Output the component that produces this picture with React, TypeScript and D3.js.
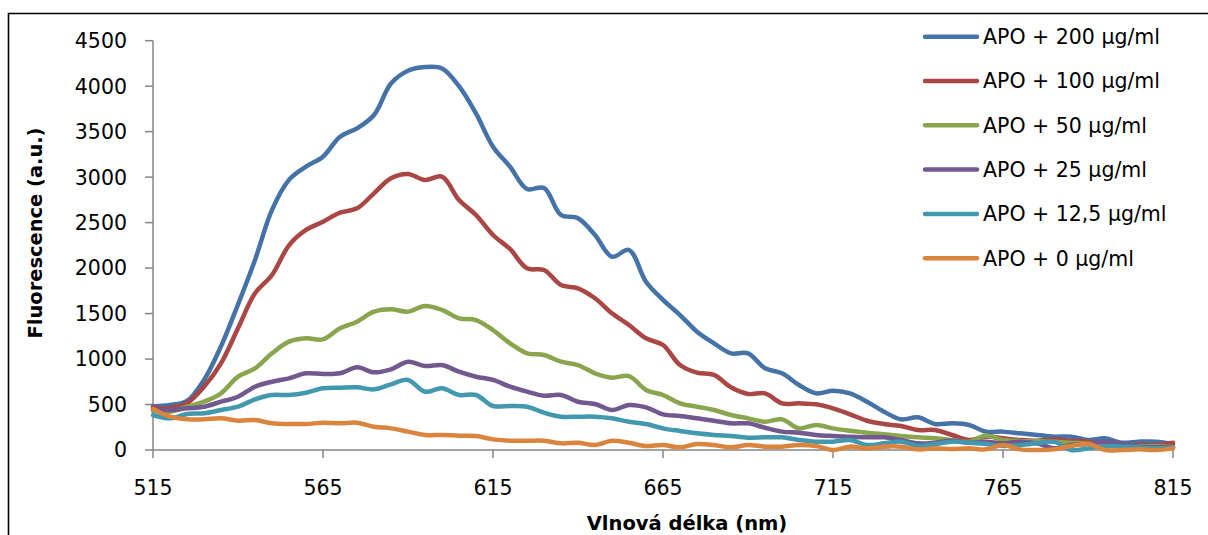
import React from "react";
import * as d3 from "d3";

const wavelengths = [
  515, 520, 525, 530, 535, 540, 545, 550, 555, 560, 565, 570, 575, 580, 585, 590, 595, 600, 605, 610,
  615, 620, 625, 630, 635, 640, 645, 650, 655, 660, 665, 670, 675, 680, 685, 690, 695, 700, 705, 710,
  715, 720, 725, 730, 735, 740, 745, 750, 755, 760, 765, 770, 775, 780, 785, 790, 795, 800, 805, 810, 815,
];

const apo200 = [
  480, 495, 540, 770, 1140, 1600, 2090, 2640, 2970, 3115, 3225, 3445, 3536, 3683, 4030, 4170, 4210, 4195, 4000, 3700,
  3335, 3115, 2870, 2880, 2584, 2548, 2364, 2125, 2199, 1850, 1650, 1484, 1301, 1173, 1063, 1063, 898, 843, 715, 623,
  652, 623, 531, 421, 337, 359, 286, 293, 275, 202, 202, 183, 165, 147, 147, 110, 128, 80, 92, 92, 66,
];
const apo100 = [
  470, 462, 515, 696, 953, 1338, 1723, 1924, 2250, 2419, 2510, 2609, 2657, 2822, 2987, 3034, 2968, 3005, 2748, 2584,
  2364, 2210, 1997, 1979, 1814, 1778, 1668, 1503, 1374, 1228, 1154, 934, 850, 825, 689, 616, 623, 513, 513, 502,
  458, 392, 322, 286, 264, 220, 220, 165, 110, 147, 128, 110, 102, 117, 102, 92, 66, 55, 55, 55, 80,
];
const apo50 = [
  430, 421, 476, 531, 623, 806, 898, 1063, 1191, 1228, 1217, 1338, 1411, 1521, 1547, 1521, 1584, 1540, 1448, 1429,
  1319, 1173, 1063, 1044, 971, 934, 843, 795, 813, 660, 605, 513, 476, 440, 385, 348, 311, 337, 238, 275,
  238, 212, 190, 172, 154, 139, 128, 110, 90, 160, 110, 100, 95, 90, 80, 70, 80, 60, 40, 40, 30,
];
const apo25 = [
  450, 440, 458, 476, 531, 586, 696, 751, 788, 843, 835, 843, 909, 854, 887, 971, 923, 934, 861, 806,
  770, 696, 641, 597, 605, 531, 506, 440, 495, 469, 392, 374, 348, 322, 293, 293, 245, 202, 190, 165,
  154, 147, 139, 139, 110, 73, 80, 102, 80, 92, 73, 92, 73, 18, 55, 66, 92, 66, 37, 30, 30,
];
const apo12 = [
  385, 348, 396, 403, 440, 476, 557, 605, 605, 630, 678, 685, 689, 667, 722, 770, 641, 678, 605, 605,
  484, 484, 476, 410, 366, 366, 366, 348, 311, 286, 238, 209, 183, 165, 154, 136, 139, 139, 110, 92,
  92, 110, 55, 73, 92, 48, 66, 92, 80, 66, 44, 55, 73, 92, 0, 18, 44, 37, 30, 18, 30,
];
const apo0 = [
  450, 366, 337, 337, 348, 322, 330, 293, 286, 286, 300, 293, 300, 256, 238, 202, 165, 165, 158, 154,
  117, 102, 102, 102, 73, 80, 55, 102, 80, 44, 55, 29, 66, 55, 29, 55, 37, 37, 55, 44,
  0, 37, 18, 37, 37, 7, 18, 11, 18, 7, 55, 7, 0, 7, 44, 66, 0, 0, 7, 0, 18,
];

const seriesNames = [
  "APO + 200 µg/ml",
  "APO + 100 µg/ml",
  "APO + 50 µg/ml",
  "APO + 25 µg/ml",
  "APO + 12,5 µg/ml",
  "APO + 0 µg/ml",
];
const seriesValues = [apo200, apo100, apo50, apo25, apo12, apo0];
const colors = ["#4572A7", "#AA4643", "#89A54E", "#71588F", "#4198AF", "#DB843D"];

const xTicks = [515, 565, 615, 665, 715, 765, 815];
const yTicks = [0, 500, 1000, 1500, 2000, 2500, 3000, 3500, 4000, 4500];

const W = 1208;
const H = 535;
const font = "'DejaVu Sans', sans-serif";

export default function App() {
  const x = d3.scaleLinear().domain([515, 815]).range([153, 1173]);
  const y = d3.scaleLinear().domain([0, 4500]).range([450, 40.7]);

  const line = d3
    .line<number>()
    .x((_, i) => x(wavelengths[i]))
    .y((d) => y(d))
    .curve(d3.curveCatmullRom.alpha(0.5));

  const axisColor = "#868686";

  return (
    <svg
      width={W}
      height={H}
      style={{ position: "fixed", left: 0, top: 0, background: "#fff" }}
    >
      {/* chart border */}
      <path d={`M8.5,${H + 5} V13.5 H${W + 5}`} fill="none" stroke="#000" strokeWidth={1.6} />

      {/* y axis */}
      <line x1={x(515)} x2={x(515)} y1={y(4500)} y2={y(0)} stroke={axisColor} strokeWidth={1.5} />
      {yTicks.map((t) => (
        <g key={t}>
          <line x1={x(515) - 8} x2={x(515)} y1={y(t)} y2={y(t)} stroke={axisColor} strokeWidth={1.5} />
          <text
            x={127}
            y={y(t)}
            dy="0.36em"
            textAnchor="end"
            fontFamily={font}
            fontSize={20.5}
            fill="#000"
          >
            {t}
          </text>
        </g>
      ))}

      {/* x axis */}
      <line x1={x(515)} x2={x(815)} y1={y(0)} y2={y(0)} stroke={axisColor} strokeWidth={1.5} />
      {xTicks.map((t) => (
        <g key={t}>
          <line x1={x(t)} x2={x(t)} y1={y(0)} y2={y(0) + 8} stroke={axisColor} strokeWidth={1.5} />
          <text
            x={x(t)}
            y={494.5}
            textAnchor="middle"
            fontFamily={font}
            fontSize={20.5}
            fill="#000"
          >
            {t}
          </text>
        </g>
      ))}

      {/* series */}
      {seriesValues.map((vals, i) => (
        <path
          key={seriesNames[i]}
          d={line(vals) || ""}
          fill="none"
          stroke={colors[i]}
          strokeWidth={4.5}
          strokeLinejoin="round"
          strokeLinecap="round"
        />
      ))}

      {/* axis titles */}
      <text
        x={687}
        y={530}
        textAnchor="middle"
        fontFamily={font}
        fontWeight="bold"
        fontSize={19.5}
        fill="#000"
      >
        Vlnová délka (nm)
      </text>
      <text
        transform="translate(41.5,233) rotate(-90)"
        textAnchor="middle"
        fontFamily={font}
        fontWeight="bold"
        fontSize={19.5}
        textLength={211}
        lengthAdjust="spacingAndGlyphs"
        fill="#000"
      >
        Fluorescence (a.u.)
      </text>

      {/* legend */}
      {seriesNames.map((name, i) => {
        const ly = 36.7 + i * 44.3;
        return (
          <g key={name}>
            <line x1={925} x2={977} y1={ly} y2={ly} stroke={colors[i]} strokeWidth={4.5} strokeLinecap="round" />
            <text x={983} y={ly} dy="0.36em" fontFamily={font} fontSize={20.5} fill="#000">
              {name}
            </text>
          </g>
        );
      })}
    </svg>
  );
}
